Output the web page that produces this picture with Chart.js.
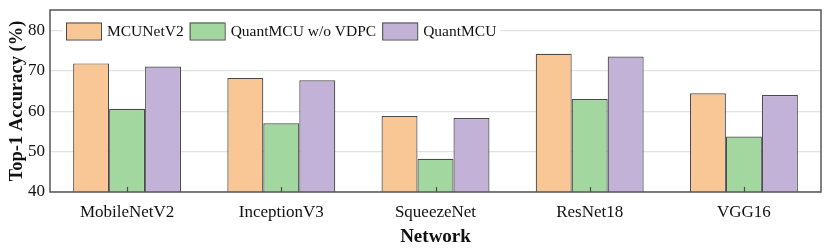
<!DOCTYPE html>
<html>
<head>
<meta charset="utf-8">
<script src="https://cdn.jsdelivr.net/npm/chart.js@4/dist/chart.umd.min.js"></script>
<style>
  html, body { margin: 0; padding: 0; background: #fff; }
  #wrap { width: 830px; height: 251px; }
</style>
</head>
<body>
<div id="wrap"><canvas id="chart" width="830" height="251"></canvas></div>
<script>
'use strict';

const networks = ['MobileNetV2', 'InceptionV3', 'SqueezeNet', 'ResNet18', 'VGG16'];
const mcunetV2 = [71.8, 68.2, 58.8, 74.2, 64.4];
const quantNoVdpc = [60.6, 57.0, 48.2, 63.0, 53.7];
const quantMcu = [71.0, 67.6, 58.3, 73.5, 64.0];
const yTicks = [40, 50, 60, 70, 80];

const FONT = '"Liberation Serif", "Times New Roman", serif';
const EDGE = '#4a4a4a';

const frameAndLegend = {
  id: 'frameAndLegend',
  afterDatasetsDraw(chart) {
    const { ctx, chartArea: a, scales } = chart;
    ctx.save();

    // inward ticks on the x axis
    ctx.strokeStyle = EDGE;
    ctx.lineWidth = 1.2;
    networks.forEach((_, i) => {
      const x = Math.round(scales.x.getPixelForValue(i)) + 0.5;
      ctx.beginPath();
      ctx.moveTo(x, a.bottom);
      ctx.lineTo(x, a.bottom - 5);
      ctx.stroke();
    });

    // legend inside the plot, white background
    const items = chart.data.datasets;
    const boxW = 35, boxH = 17, gap = 6, spacing = 6;
    let x = a.left + 16;
    const y = 31;
    ctx.font = '15.5px ' + FONT;
    ctx.textBaseline = 'middle';
    const widths = items.map((d) => ctx.measureText(d.label).width);
    const total = widths.reduce((s, w) => s + boxW + gap + w + spacing, 0);
    ctx.fillStyle = '#fff';
    ctx.fillRect(x - 4, y - 12, total + 2, 24);
    items.forEach((d, i) => {
      ctx.fillStyle = d.backgroundColor;
      ctx.fillRect(x, y - boxH / 2, boxW, boxH);
      ctx.strokeStyle = EDGE;
      ctx.lineWidth = 1;
      ctx.strokeRect(x + 0.5, y - boxH / 2 + 0.5, boxW, boxH);
      ctx.fillStyle = '#111';
      ctx.fillText(d.label, x + boxW + gap, y + 1);
      x += boxW + gap + widths[i] + spacing;
    });

    // frame
    ctx.strokeStyle = '#555';
    ctx.lineWidth = 1.5;
    ctx.strokeRect(a.left, a.top, a.right - a.left, a.bottom - a.top);
    ctx.restore();
  },
};

new Chart(document.getElementById('chart'), {
  type: 'bar',
  data: {
    labels: networks,
    datasets: [
      { label: 'MCUNetV2', data: mcunetV2, backgroundColor: '#F9C795' },
      { label: 'QuantMCU w/o VDPC', data: quantNoVdpc, backgroundColor: '#A2D79F' },
      { label: 'QuantMCU', data: quantMcu, backgroundColor: '#C2B2D7' },
    ].map((d) => ({ ...d, borderColor: EDGE, borderWidth: 1.2, borderSkipped: 'bottom' })),
  },
  options: {
    responsive: false,
    animation: false,
    devicePixelRatio: 1,
    layout: { padding: { top: 10, right: 9, bottom: 0, left: 0 } },
    datasets: { bar: { barPercentage: 1.0, categoryPercentage: 0.7 } },
    plugins: {
      legend: { display: false },
      tooltip: { enabled: false },
    },
    scales: {
      x: {
        afterFit: (scale) => { scale.height = 59; },
        grid: { display: false },
        border: { display: false },
        ticks: { color: '#111', font: { family: FONT, size: 17 }, padding: 2 },
        title: {
          display: true,
          text: 'Network',
          color: '#111',
          font: { family: FONT, size: 19, weight: 'bold' },
          padding: { top: 4, bottom: 3 },
        },
      },
      y: {
        min: 40,
        max: 85,
        afterBuildTicks: (scale) => { scale.ticks = yTicks.map((v) => ({ value: v })); },
        afterFit: (scale) => {
          scale.width = 50;
          scale.paddingTop = 0;
          scale.paddingBottom = 0;
        },
        grid: { color: '#e2e2e2', lineWidth: 1.2, drawTicks: false },
        border: { display: false },
        ticks: { color: '#111', font: { family: FONT, size: 17 }, padding: 5 },
        title: {
          display: true,
          text: 'Top-1 Accuracy (%)',
          color: '#111',
          font: { family: FONT, size: 18.5, weight: 'bold' },
          padding: { top: 6, bottom: 0 },
        },
      },
    },
  },
  plugins: [frameAndLegend],
});
</script>
</body>
</html>
